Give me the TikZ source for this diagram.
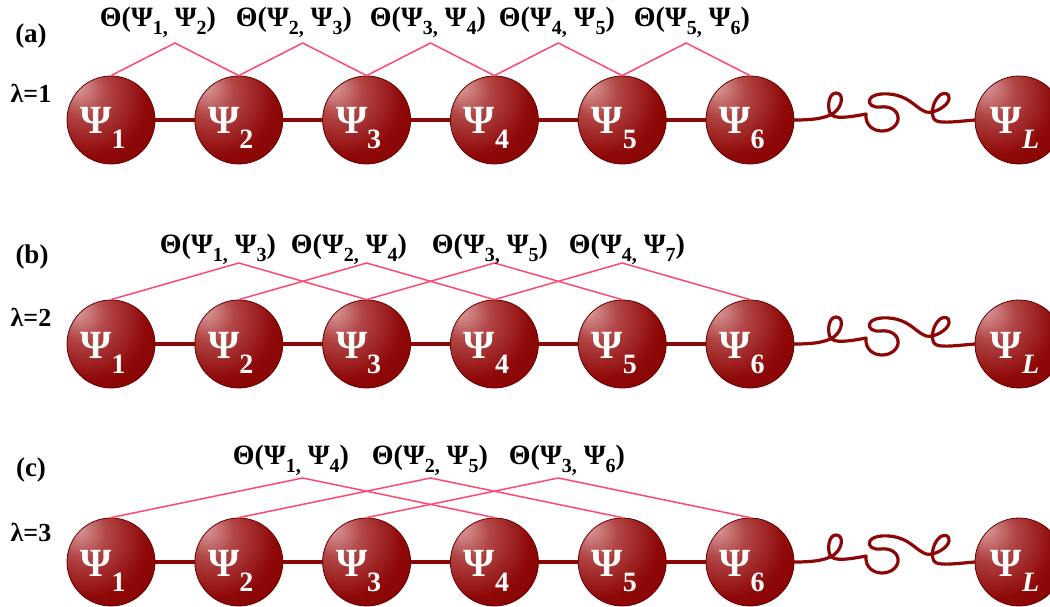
\documentclass[tikz,border=0pt]{standalone}
\usepackage{fontspec}
\setmainfont{Liberation Serif}
\usetikzlibrary{calc,backgrounds}
\definecolor{ballhi}{RGB}{220,160,160}
\definecolor{ballmid}{RGB}{178,70,70}
\definecolor{balldk}{RGB}{143,8,8}
\definecolor{balledge}{RGB}{128,0,0}
\definecolor{ballline}{RGB}{105,0,0}
\definecolor{chaincol}{RGB}{140,8,8}
\definecolor{thetacol}{RGB}{255,72,112}
\pgfdeclareradialshading{psiball}{\pgfpoint{-20bp}{20bp}}{color(0bp)=(ballhi); color(14bp)=(ballmid); color(32bp)=(balldk); color(60bp)=(balledge); color(80bp)=(balledge)}
\newcommand\psub[1]{\raisebox{-15pt}{\fontsize{28}{28}\selectfont #1}}
\newcommand\tsub[1]{\raisebox{-8pt}{\fontsize{20}{20}\selectfont #1}}
\newcommand\thl[2]{Θ(Ψ\tsub{#1,} Ψ\tsub{#2})}
\tikzset{
  ball/.style={circle, minimum size=88pt, inner sep=0pt, draw=ballline, line width=0.8pt, shading=psiball},
  psitxt/.style={anchor=base, inner sep=0pt, text=white, font=\fontsize{40}{40}\selectfont\bfseries},
  chain/.style={draw=chaincol, line width=4pt},
  coil/.style={draw=chaincol, line width=3.2pt, line cap=round, line join=round},
  theta/.style={draw=thetacol, line width=1.5pt},
  thlab/.style={inner sep=0pt, font=\fontsize{28}{32}\selectfont\bfseries},
  rowlab/.style={inner sep=0pt, font=\fontsize{27}{30}\selectfont\bfseries},
  lamlab/.style={inner sep=0pt, font=\fontsize{26}{30}\selectfont\bfseries},
}
\begin{document}
\begin{tikzpicture}[x=1pt,y=-1pt]
\useasboundingbox (0,0) rectangle (1050,607);
\clip (0,0) rectangle (1050,607);
% balls
\foreach \r/\Y in {a/120,b/344,c/562}{
  \foreach \i in {1,...,6}{
    \node[ball] (\r\i) at ({111+127.8*(\i-1)},\Y) {};
    \node[psitxt] (t\r\i) at ([shift={(-8,14)}]\r\i.center) {Ψ\psub{\i}};
  }
  \node[ball] (\r L) at (1019,\Y) {};
  \node[psitxt] (t\r L) at ([shift={(-4,14)}]\r L.center) {Ψ\psub{\itshape L}};
}
% chains and coils behind the balls
\begin{scope}[on background layer]
\foreach \r/\D in {a/0,b/224,c/442}{
  \draw[chain] (\r1.center) -- (\r2.center) -- (\r3.center) -- (\r4.center) -- (\r5.center) -- (\r6.center);
  \begin{scope}[shift={(0,\D)}]
  \draw[coil] (\r6.east) .. controls (815,120) and (830,118) .. (837,110)
    .. controls (843,103) and (843,93) .. (836,93)
    .. controls (829,93) and (827,106) .. (830,113)
    .. controls (833,120) and (850,117) .. (866,114)
    .. controls (865,126) and (874,131) .. (882,131)
    .. controls (892,131) and (899,124) .. (898,117)
    .. controls (897,109) and (888,106) .. (881,107)
    .. controls (873,108) and (867,104) .. (870,99)
    .. controls (873,93) and (890,92) .. (902,97)
    .. controls (912,101) and (918,109) .. (926,112)
    .. controls (934,114) and (948,106) .. (949,99)
    .. controls (950,93) and (944,92) .. (940,95)
    .. controls (934,100) and (930,112) .. (934,119)
    .. controls (937,124) and (952,122) .. (\r L.west);
  \end{scope}
}
\end{scope}
% row (a)
\foreach \i/\j/\lj/\lx [count=\k] in {1/2/2/158, 2/3/3/294, 3/4/4/428, 4/5/5/557, 5/6/6/692}{
  \coordinate (pa\k) at ({111+127.8*((\i+\j)/2-1)},43);
  \draw[theta] (a\i.north) -- (pa\k) -- (a\j.north);
  \node[thlab] (la\k) at (\lx,22) {\thl{\i}{\lj}};
}
% row (b)
\foreach \i/\j/\lj/\lx [count=\k] in {1/3/3/218, 2/4/4/349, 3/5/5/490, 4/6/7/627}{
  \coordinate (pb\k) at ({111+127.8*((\i+\j)/2-1)},263);
  \draw[theta] (b\i.north) -- (pb\k) -- (b\j.north);
  \node[thlab] (lb\k) at (\lx,249) {\thl{\i}{\lj}};
}
% row (c)
\foreach \i/\j/\lj/\lx [count=\k] in {1/4/4/291, 2/5/5/430, 3/6/6/567}{
  \coordinate (pc\k) at ({111+127.8*((\i+\j)/2-1)},478);
  \draw[theta] (c\i.north) -- (pc\k) -- (c\j.north);
  \node[thlab] (lc\k) at (\lx,460) {\thl{\i}{\lj}};
}
% row labels
\node[rowlab] (rla) at (31,36) {(a)};
\node[rowlab] (rlb) at (32,257) {(b)};
\node[rowlab] (rlc) at (31,470) {(c)};
\node[lamlab] (lama) at (31,93) {λ=1};
\node[lamlab] (lamb) at (31,317) {λ=2};
\node[lamlab] (lamc) at (31,532) {λ=3};
\end{tikzpicture}
\end{document}
